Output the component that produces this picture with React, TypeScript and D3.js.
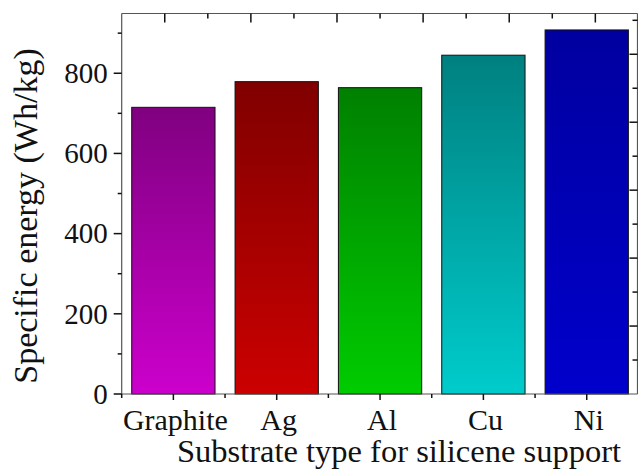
import React, { useEffect, useRef } from 'react'
import * as d3 from 'd3'

const substrates = ['Graphite', 'Ag', 'Al', 'Cu', 'Ni']
const energy = [715, 779, 764, 845, 908]
const topColors = ['#800080', '#800000', '#008000', '#008080', '#0000a0']
const bottomColors = ['#cc00cc', '#cc0000', '#00cc00', '#00cccc', '#0000cc']
const yTicks = [0, 200, 400, 600, 800]
const yMinorTicks = [100, 300, 500, 700, 900]

const W = 638
const H = 470
const left = 121.7
const right = 638.4
const top = 13.5
const bottom = 394
const frameRight = 637.5
const font = '"Liberation Serif", "Times New Roman", serif'

const EnergyBars = () => {
  const svgRef = useRef<SVGSVGElement>(null)

  useEffect(() => {
    const svg: any = d3.select(svgRef.current)
    svg.selectAll('*').remove()

    const x = d3.scaleBand<string>().domain(substrates).range([left, right])
      .paddingInner(0.194).paddingOuter(0.097)
    const y = d3.scaleLinear().domain([0, 949]).range([bottom, top])
    // secondary frame ticks (top / right), no labels
    const xTop = d3.scaleLinear().domain([0, 12]).range([left, right])
    const yRight = d3.scaleLinear().domain([0, 11.2]).range([bottom, top])

    const defs = svg.append('defs')
    substrates.forEach((s, i) => {
      const g = defs.append('linearGradient')
        .attr('id', 'grad' + i)
        .attr('x1', 0).attr('y1', 0).attr('x2', 0).attr('y2', 1)
      g.append('stop').attr('offset', '0%').attr('stop-color', topColors[i])
      g.append('stop').attr('offset', '100%').attr('stop-color', bottomColors[i])
    })

    // bars
    svg.append('g')
      .selectAll('rect')
      .data(substrates)
      .join('rect')
      .attr('x', (d: string) => x(d))
      .attr('y', (_: string, i: number) => y(energy[i]))
      .attr('width', x.bandwidth())
      .attr('height', (_: string, i: number) => bottom - y(energy[i]))
      .attr('fill', (_: string, i: number) => `url(#grad${i})`)
      .attr('stroke', '#111')
      .attr('stroke-width', 1)

    // frame
    const frame = svg.append('g').attr('stroke', '#555').attr('stroke-width', 1.2).attr('fill', 'none')
    frame.append('line').attr('x1', left).attr('x2', left).attr('y1', top).attr('y2', bottom)
    frame.append('line').attr('x1', left).attr('x2', frameRight).attr('y1', bottom).attr('y2', bottom)
    frame.append('line').attr('x1', left).attr('x2', frameRight).attr('y1', top).attr('y2', top)
    frame.append('line').attr('x1', frameRight).attr('x2', frameRight).attr('y1', top).attr('y2', bottom)

    const ticks = svg.append('g').attr('stroke', '#111').attr('stroke-width', 1.5)

    // left axis
    ticks.selectAll('.ymaj').data(yTicks).join('line')
      .attr('x1', left - 8).attr('x2', left)
      .attr('y1', (d: number) => y(d)).attr('y2', (d: number) => y(d))
    ticks.selectAll('.ymin').data(yMinorTicks).join('line')
      .attr('x1', left - 4).attr('x2', left)
      .attr('y1', (d: number) => y(d)).attr('y2', (d: number) => y(d))

    // bottom axis: major at categories, minor between
    const centers = substrates.map(s => (x(s) as number) + x.bandwidth() / 2)
    const step = x.step()
    const between = d3.range(substrates.length).map(i => left + i * step)
    ticks.append('g').selectAll('line').data(centers).join('line')
      .attr('x1', (d: number) => d).attr('x2', (d: number) => d)
      .attr('y1', bottom).attr('y2', bottom + 6)
    ticks.append('g').selectAll('line').data(between).join('line')
      .attr('x1', (d: number) => d).attr('x2', (d: number) => d)
      .attr('y1', bottom).attr('y2', bottom + 4)

    // top ticks, inward
    ticks.append('g').selectAll('line').data(d3.range(1, 12)).join('line')
      .attr('x1', (d: number) => xTop(d)).attr('x2', (d: number) => xTop(d))
      .attr('y1', top).attr('y2', (d: number) => top + (d % 2 === 1 ? 9 : 5))

    // right ticks, inward
    ticks.append('g').selectAll('line').data(d3.range(1, 12)).join('line')
      .attr('x1', (d: number) => frameRight - (d % 2 === 0 ? 8 : 5)).attr('x2', frameRight)
      .attr('y1', (d: number) => yRight(d)).attr('y2', (d: number) => yRight(d))

    // labels
    svg.append('g').selectAll('text').data(yTicks).join('text')
      .attr('x', left - 14)
      .attr('y', (d: number) => y(d))
      .attr('dy', '0.34em')
      .attr('text-anchor', 'end')
      .attr('font-family', font)
      .attr('font-size', 29)
      .attr('fill', '#111')
      .text((d: number) => d)

    svg.append('g').selectAll('text').data(substrates).join('text')
      .attr('x', (_: string, i: number) => centers[i] + 2)
      .attr('y', 430)
      .attr('text-anchor', 'middle')
      .attr('font-family', font)
      .attr('font-size', 30)
      .attr('fill', '#111')
      .text((d: string) => d)

    svg.append('text')
      .attr('x', 399)
      .attr('y', 462)
      .attr('text-anchor', 'middle')
      .attr('font-family', font)
      .attr('font-size', 32.5)
      .attr('fill', '#111')
      .text('Substrate type for silicene support')

    svg.append('text')
      .attr('transform', 'translate(37,216) rotate(-90)')
      .attr('text-anchor', 'middle')
      .attr('font-family', font)
      .attr('font-size', 34)
      .attr('fill', '#111')
      .text('Specific energy (Wh/kg)')
  }, [])

  return (
    <svg ref={svgRef} width={W} height={H}
      style={{ position: 'absolute', left: 0, top: 0, background: '#fff' }} />
  )
}

export default function App() {
  return <EnergyBars />
}
